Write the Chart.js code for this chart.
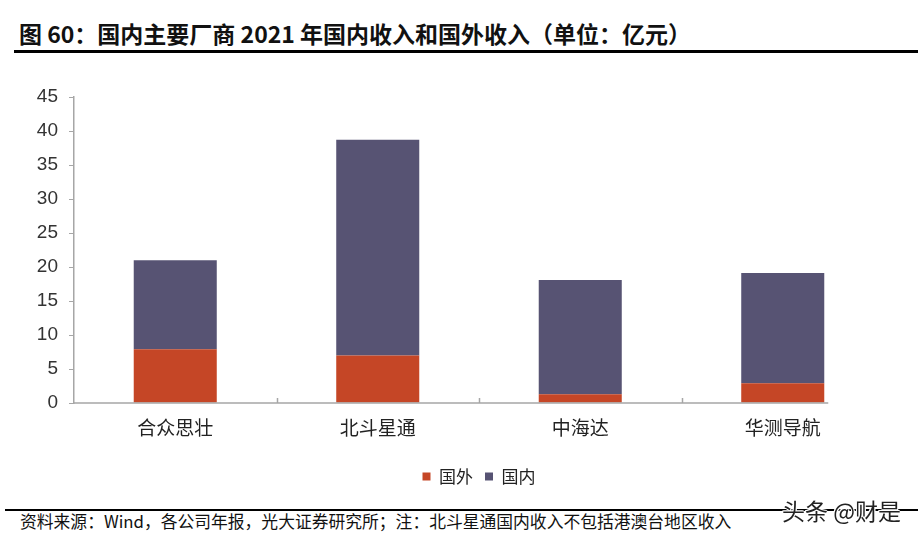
<!DOCTYPE html>
<html>
<head>
<meta charset="utf-8">
<script src="https://cdn.jsdelivr.net/npm/chart.js@4.4.1/dist/chart.umd.min.js"></script>
<style>
  body { margin: 0; background: #fff; width: 918px; height: 545px; overflow: hidden; position: relative; font-family: "Noto Sans CJK SC", sans-serif; }
  #titulo { position: absolute; left: 19px; top: 16px; font-size: 23px; font-weight: bold; color: #111; white-space: nowrap; }
  #linea1 { position: absolute; left: 14px; right: 0; top: 50px; height: 3px; background: #000; }
  #linea2 { position: absolute; left: 5px; right: 0; top: 509px; height: 2px; background: #000; }
  #fuente { position: absolute; left: 20px; top: 509px; font-size: 16.8px; color: #111; white-space: nowrap; }
  #marca { position: absolute; left: 782px; top: 493px; font-size: 23px; color: #222; white-space: nowrap;
    text-shadow: -1px 0 #fff, 1px 0 #fff, 0 -1px #fff, 0 1px #fff, 1px 1px #fff, -1px -1px #fff; }
  #caja { position: absolute; left: 0; top: 60px; width: 918px; height: 440px; }
</style>
</head>
<body>
<div id="titulo">图 60：国内主要厂商 2021 年国内收入和国外收入（单位：亿元）</div>
<div id="linea1"></div>
<div id="caja"><canvas id="grafico"></canvas></div>
<div id="linea2"></div>
<div id="fuente">资料来源：Wind，各公司年报，光大证券研究所；注：北斗星通国内收入不包括港澳台地区收入</div>
<div id="marca">头条 @财是</div>
<script>
// Datos (亿元)
const empresas = ['合众思壮', '北斗星通', '中海达', '华测导航']
const ingresoExterior = [7.9, 7.0, 1.3, 2.9]
const ingresoInterior = [13.1, 31.7, 16.8, 16.2]
const ticksY = [0, 5, 10, 15, 20, 25, 30, 35, 40, 45]

const gris = '#a6a6a6'

// eje x recortado y marcas entre categorias
const ejeX = {
    id: 'ejeX',
    afterDatasetsDraw(chart) {
        const ctx = chart.ctx
        const x = chart.scales.x
        const y0 = chart.scales.y.getPixelForValue(0)
        const barras = chart.getDatasetMeta(0).data
        const ultima = barras[barras.length - 1]
        const fin = ultima.x + ultima.width / 2 + 4
        ctx.save()
        ctx.strokeStyle = gris
        ctx.lineWidth = 1.5
        ctx.beginPath()
        ctx.moveTo(chart.chartArea.left, y0)
        ctx.lineTo(fin, y0)
        for (let i = 0; i < empresas.length - 1; i++) {
            const px = Math.round((x.getPixelForValue(i) + x.getPixelForValue(i + 1)) / 2) + 0.5
            ctx.moveTo(px, y0)
            ctx.lineTo(px, y0 - 5)
        }
        ctx.stroke()
        ctx.restore()
    }
}

new Chart(document.getElementById('grafico'), {
    type: 'bar',
    data: {
        labels: empresas,
        datasets: [
            { label: '国外', data: ingresoExterior, backgroundColor: '#c54626', barPercentage: 0.41, categoryPercentage: 1 },
            { label: '国内', data: ingresoInterior, backgroundColor: '#575373', barPercentage: 0.41, categoryPercentage: 1 }
        ]
    },
    options: {
        responsive: true,
        maintainAspectRatio: false,
        animation: false,
        layout: { padding: { top: 37, right: 34, left: 0, bottom: 5 } },
        plugins: {
            tooltip: { enabled: false },
            legend: {
                position: 'bottom',
                fullSize: false,
                labels: {
                    boxWidth: 8, boxHeight: 8, padding: 12, color: '#222',
                    font: { family: '"Noto Sans CJK SC"', size: 17 }
                }
            }
        },
        scales: {
            x: {
                stacked: true,
                afterFit: s => { s.height = 53 },
                grid: { display: false },
                border: { display: false },
                ticks: { color: '#222', padding: 5, font: { family: '"Noto Sans CJK SC"', size: 19 } }
            },
            y: {
                stacked: true,
                min: 0, max: 45,
                afterFit: s => { s.width = 74 },
                afterBuildTicks: s => { s.ticks = ticksY.map(v => ({ value: v })) },
                grid: { drawOnChartArea: false, color: gris, tickLength: 5 },
                border: { color: gris, width: 1.5 },
                ticks: { color: '#333', padding: 11, font: { family: '"Liberation Sans"', size: 19 } }
            }
        }
    },
    plugins: [ejeX]
})
</script>
</body>
</html>
